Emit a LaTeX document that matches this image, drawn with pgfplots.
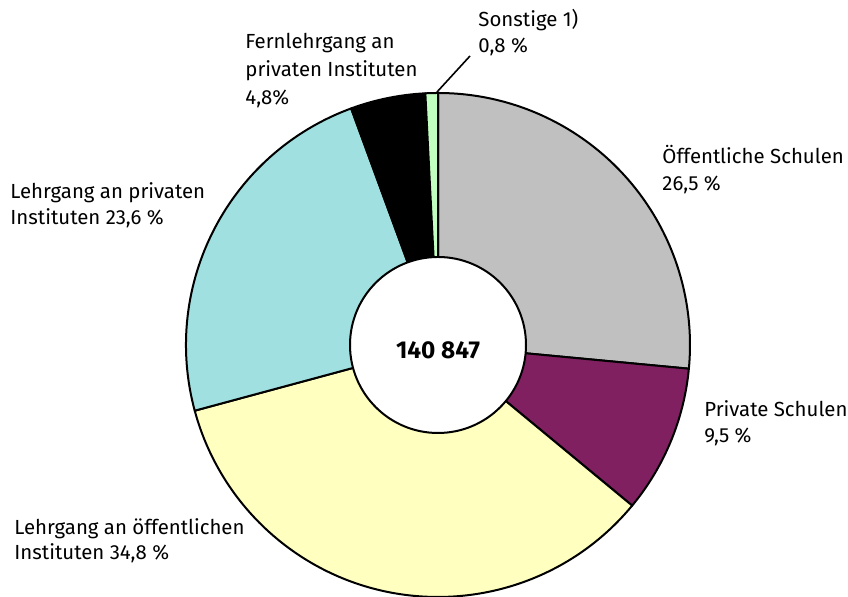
\documentclass[border=0pt]{standalone}
\usepackage{fontspec}
\setmainfont{Fira Sans}
\usepackage{pgfplots}
\usepackage{pgfplotstable}
\pgfplotsset{compat=1.18}
\definecolor{oeffschul}{RGB}{192,192,192}
\definecolor{privschul}{RGB}{128,32,96}
\definecolor{lgoeff}{RGB}{255,255,192}
\definecolor{lgpriv}{RGB}{160,224,224}
\definecolor{fernlg}{RGB}{0,0,0}
\definecolor{sonst}{RGB}{192,255,192}

% shares in percent, clockwise from 12 o'clock
\pgfplotstableread{
share colour
26.5 oeffschul
9.5 privschul
34.8 lgoeff
23.6 lgpriv
4.8 fernlg
0.8 sonst
}\sharetable

\begin{document}
\fontsize{10.2}{13}\selectfont
\begin{tikzpicture}
\begin{axis}[
  x=0.5pt, y=0.5pt,
  xmin=0, xmax=848, ymin=0, ymax=597,
  hide axis, clip=false,
]
\gdef\cum{0}
\foreach \i in {0,...,5}{
  \pgfplotstablegetelem{\i}{share}\of\sharetable \let\v\pgfplotsretval
  \pgfplotstablegetelem{\i}{colour}\of\sharetable \let\c\pgfplotsretval
  \pgfmathsetmacro\a{90-3.6*\cum}
  \pgfmathsetmacro\b{90-3.6*(\cum+\v)}
  \pgfmathsetmacro\newcum{\cum+\v}\global\let\cum\newcum
  \edef\slice{\noexpand\filldraw[fill=\c, draw=black, line width=1pt, line join=round]
    (axis cs:438,252) -- ++(\a:126pt) arc[start angle=\a, end angle=\b, radius=126pt] -- cycle;}
  \slice
}
\filldraw[fill=white, draw=black, line width=1pt] (axis cs:438,252) circle[radius=44pt];
\node[font=\fontsize{12.2}{14}\selectfont\bfseries] at (axis cs:438,247) {140 847};
\draw[line width=0.8pt] (axis cs:437,505) -- (axis cs:470,541);

\node[anchor=base west, inner sep=0] at (axis cs:478,570) {Sonstige 1)};
\node[anchor=base west, inner sep=0] at (axis cs:478,544) {0,8 \%};
\node[anchor=base west, inner sep=0] at (axis cs:245,548) {Fernlehrgang an};
\node[anchor=base west, inner sep=0] at (axis cs:245,520) {privaten Instituten};
\node[anchor=base west, inner sep=0] at (axis cs:245,492) {4,8\%};
\node[anchor=base west, inner sep=0] at (axis cs:662,433) {Öffentliche Schulen};
\node[anchor=base west, inner sep=0] at (axis cs:662,406) {26,5 \%};
\node[anchor=base west, inner sep=0] at (axis cs:10,398) {Lehrgang an privaten};
\node[anchor=base west, inner sep=0] at (axis cs:10,372) {Instituten 23,6 \%};
\node[anchor=base west, inner sep=0] at (axis cs:704,180) {Private Schulen};
\node[anchor=base west, inner sep=0] at (axis cs:704,154) {9,5 \%};
\node[anchor=base west, inner sep=0] at (axis cs:14,62) {Lehrgang an öffentlichen};
\node[anchor=base west, inner sep=0] at (axis cs:14,37) {Instituten 34,8 \%};
\end{axis}
\pgfresetboundingbox
\path (0,0) rectangle (424pt,298.5pt);
\end{tikzpicture}
\end{document}
